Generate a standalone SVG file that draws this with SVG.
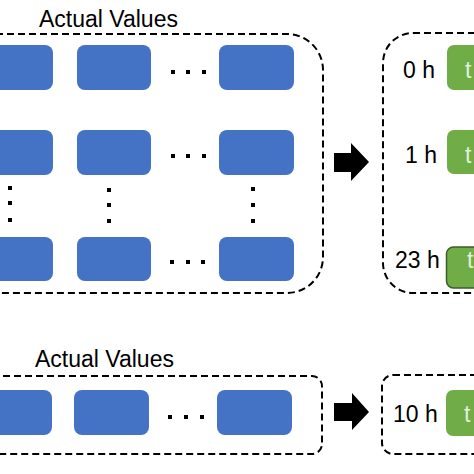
<svg xmlns="http://www.w3.org/2000/svg" width="474" height="474" viewBox="0 0 474 474">
<defs>
<style>
.frame{fill:none;stroke:#000;stroke-width:2;stroke-dasharray:7 4}
.blue{fill:#4472c4}
.green{fill:#70ad47}
.lbl{font-family:"Liberation Sans",Arial,sans-serif;font-size:23px;fill:#000}
.tt{font-family:"Liberation Sans",Arial,sans-serif;font-size:23px;fill:#e2efda}
.dot{fill:#000}
.arrow{fill:#000}
</style>
</defs>
<rect width="474" height="474" fill="#fff"/>

<g id="top-input">
<rect class="frame" x="-40" y="34" width="363" height="259" rx="36" ry="36"/>
<text class="lbl" x="39" y="27">Actual Values</text>
<rect class="blue" x="-20" y="45" width="73" height="45" rx="8"/>
<rect class="blue" x="77" y="45" width="74" height="45" rx="8"/>
<rect class="blue" x="219" y="45" width="75" height="45" rx="8"/>
<rect class="blue" x="-20" y="130" width="73" height="45" rx="8"/>
<rect class="blue" x="77" y="130" width="74" height="45" rx="8"/>
<rect class="blue" x="219" y="130" width="75" height="45" rx="8"/>
<rect class="blue" x="-20" y="237" width="73" height="44" rx="8"/>
<rect class="blue" x="77" y="237" width="74" height="44" rx="8"/>
<rect class="blue" x="219" y="237" width="75" height="44" rx="8"/>
<rect class="dot" x="171" y="70" width="4" height="4"/>
<rect class="dot" x="186" y="70" width="4" height="4"/>
<rect class="dot" x="202" y="70" width="4" height="4"/>
<rect class="dot" x="171" y="154" width="4" height="4"/>
<rect class="dot" x="186" y="154" width="4" height="4"/>
<rect class="dot" x="202" y="154" width="4" height="4"/>
<rect class="dot" x="170" y="260" width="4" height="4"/>
<rect class="dot" x="186" y="260" width="4" height="4"/>
<rect class="dot" x="201" y="260" width="4" height="4"/>
<rect class="dot" x="8" y="186" width="4" height="4"/>
<rect class="dot" x="8" y="201" width="4" height="4"/>
<rect class="dot" x="8" y="218" width="4" height="4"/>
<rect class="dot" x="107" y="188" width="4" height="4"/>
<rect class="dot" x="107" y="203" width="4" height="4"/>
<rect class="dot" x="107" y="219" width="4" height="4"/>
<rect class="dot" x="251" y="187" width="4" height="4"/>
<rect class="dot" x="251" y="203" width="4" height="4"/>
<rect class="dot" x="251" y="219" width="4" height="4"/>
</g>

<g id="top-output">
<rect class="frame" x="383" y="33" width="140" height="260" rx="30" ry="30"/>
<text class="lbl" x="403" y="78">0 h</text>
<text class="lbl" x="405" y="163">1 h</text>
<text class="lbl" x="395" y="268">23 h</text>
<rect class="green" x="447" y="45" width="60" height="45" rx="7"/>
<rect class="green" x="447" y="130" width="60" height="44" rx="7"/>
<rect class="green" x="446.5" y="247" width="60" height="41" rx="7" stroke="#3b5e29" stroke-width="1.5"/>
<text class="tt" x="465" y="78">t</text>
<text class="tt" x="465" y="163">t</text>
<text class="tt" x="467" y="268">t</text>
</g>

<g id="bottom-input">
<rect class="frame" x="-40" y="376" width="362" height="78" rx="10" ry="10"/>
<text class="lbl" x="35" y="367">Actual Values</text>
<rect class="blue" x="-20" y="390" width="72" height="45" rx="8"/>
<rect class="blue" x="74" y="390" width="75" height="45" rx="8"/>
<rect class="blue" x="217" y="390" width="75" height="45" rx="8"/>
<rect class="dot" x="168" y="415" width="4" height="4"/>
<rect class="dot" x="184" y="415" width="4" height="4"/>
<rect class="dot" x="200" y="415" width="4" height="4"/>
</g>

<g id="bottom-output">
<rect class="frame" x="382" y="375" width="140" height="79" rx="11" ry="11"/>
<text class="lbl" x="393" y="422">10 h</text>
<rect class="green" x="446" y="390" width="60" height="46" rx="7"/>
<text class="tt" x="464" y="422">t</text>
</g>

<g id="connectors">
<polygon class="arrow" points="334,153 351,153 351,143 369,162 351,181 351,172 334,172"/>
<polygon class="arrow" points="334,403 352,403 352,393 369,412 352,430 352,421 334,421"/>
</g>
</svg>
